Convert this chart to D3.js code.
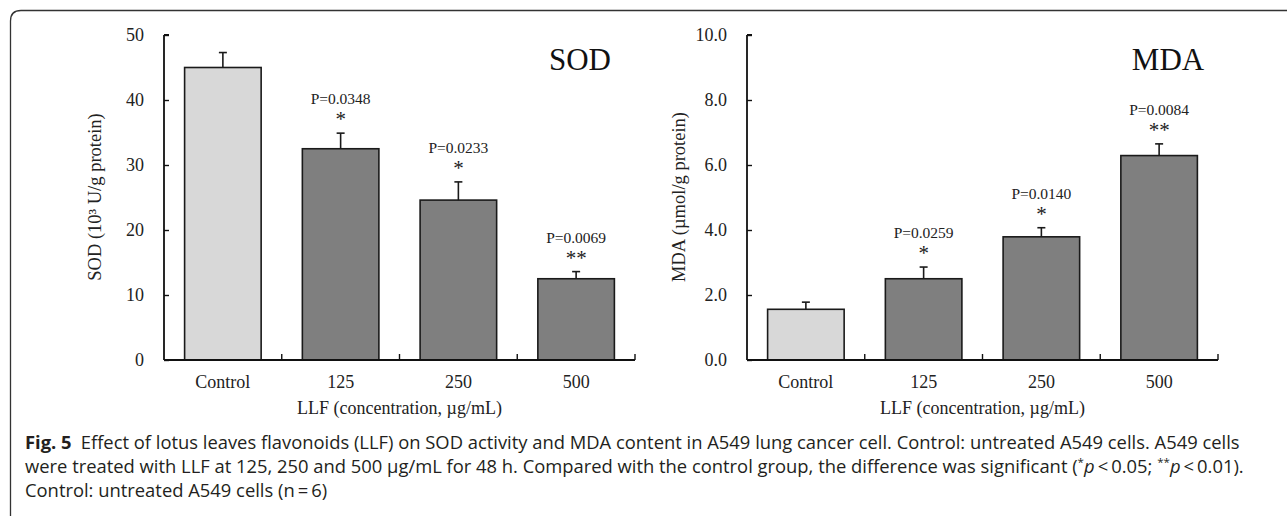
<!DOCTYPE html>
<html>
<head>
<meta charset="utf-8">
<script src="https://cdn.jsdelivr.net/npm/d3@7"></script>
<style>
  body { margin: 0; background: #fff; }
  svg { display: block; }
</style>
</head>
<body>
<div id="fig"></div>
<script>
// chart values
var categories = ["Control", "125", "250", "500"];

var sodMean = [45.0, 32.5, 24.6, 12.5];
var sodErr  = [2.3, 2.4, 2.8, 1.1];
var sodP    = ["", "P=0.0348", "P=0.0233", "P=0.0069"];
var sodStars = ["", "*", "*", "**"];
var sodTicks = [0, 10, 20, 30, 40, 50];

var mdaMean = [1.56, 2.50, 3.79, 6.29];
var mdaErr  = [0.22, 0.36, 0.28, 0.36];
var mdaP    = ["", "P=0.0259", "P=0.0140", "P=0.0084"];
var mdaStars = ["", "*", "*", "**"];
var mdaTicks = [0, 2, 4, 6, 8, 10];

var W = 1287, H = 516;
var serif = "'Liberation Serif', 'Times New Roman', serif";

var svg = d3.select('#fig').append('svg')
            .attr('width', W)
            .attr('height', H);

// rounded frame, open at right and bottom
svg.append('path')
   .attr('d', 'M10.5,' + (H + 2) + ' L10.5,21 Q10.5,10.5 21,10.5 L' + (W + 2) + ',10.5')
   .attr('fill', 'none')
   .attr('stroke', '#333')
   .attr('stroke-width', 1.3);

function drawPanel(o) {
    var g = svg.append('g');

    var x = d3.scaleBand().domain(categories).range([o.left, o.right])
              .paddingInner(0.35).paddingOuter(0.175);
    var y = d3.scaleLinear().domain([0, o.max]).range([360, 35]);

    // bars
    g.selectAll('rect.bar')
     .data(o.mean)
     .enter().append('rect')
     .attr('x', function(d, i){ return x(categories[i]); })
     .attr('y', function(d){ return y(d); })
     .attr('width', x.bandwidth())
     .attr('height', function(d){ return y(0) - y(d); })
     .attr('fill', function(d, i){ return i == 0 ? '#d8d8d8' : '#7f7f7f'; })
     .attr('stroke', '#1a1a1a')
     .attr('stroke-width', 1.6);

    // error bars (upper only) and significance marks
    var cx = function(i){ return x(categories[i]) + x.bandwidth() / 2; };
    o.mean.forEach(function(m, i) {
        var top = y(m + o.err[i]);
        g.append('line')
         .attr('x1', cx(i)).attr('x2', cx(i))
         .attr('y1', y(m)).attr('y2', top)
         .attr('stroke', '#1a1a1a').attr('stroke-width', 1.6);
        g.append('line')
         .attr('x1', cx(i) - 4).attr('x2', cx(i) + 4)
         .attr('y1', top).attr('y2', top)
         .attr('stroke', '#1a1a1a').attr('stroke-width', 1.6);
        if (o.p[i]) {
            g.append('text')
             .attr('x', cx(i)).attr('y', top - 34 + 5)
             .attr('text-anchor', 'middle')
             .attr('font-family', serif).attr('font-size', 15.5)
             .attr('fill', '#222')
             .text(o.p[i]);
            g.append('text')
             .attr('x', cx(i)).attr('y', top - 17 + 10)
             .attr('text-anchor', 'middle')
             .attr('font-family', serif).attr('font-size', 21)
             .attr('fill', '#222')
             .text(o.stars[i]);
        }
    });

    // y axis, ticks pointing inward
    var yAxis = g.append('g')
                 .attr('transform', 'translate(' + o.left + ',0)')
                 .call(d3.axisRight(y).tickValues(o.ticks).tickSize(5)
                         .tickFormat(o.fmt));
    yAxis.select('.domain').attr('stroke', '#111').attr('stroke-width', 1.8)
         .attr('d', 'M0,' + y(o.max) + 'H5M0,' + y(o.max) + 'V' + y(0));
    yAxis.selectAll('.tick line').attr('stroke', '#111').attr('stroke-width', 1.4);
    yAxis.selectAll('.tick text')
         .attr('x', -20)
         .attr('text-anchor', 'end')
         .attr('font-family', serif).attr('font-size', 18)
         .attr('fill', '#222');

    // x axis with ticks at the band boundaries
    g.append('line')
     .attr('x1', o.left).attr('x2', o.right)
     .attr('y1', y(0)).attr('y2', y(0))
     .attr('stroke', '#111').attr('stroke-width', 1.8);
    var step = x.step();
    categories.forEach(function(c, i) {
        var tx = o.left + step * (i + 1);
        g.append('line')
         .attr('x1', tx).attr('x2', tx)
         .attr('y1', y(0)).attr('y2', y(0) - 6)
         .attr('stroke', '#111').attr('stroke-width', 1.4);
        g.append('text')
         .attr('x', cx(i)).attr('y', 388)
         .attr('text-anchor', 'middle')
         .attr('font-family', serif).attr('font-size', 18)
         .attr('fill', '#222')
         .text(c);
    });

    // axis titles
    g.append('text')
     .attr('x', (o.left + o.right) / 2).attr('y', 414)
     .attr('text-anchor', 'middle')
     .attr('font-family', serif).attr('font-size', 18)
     .attr('fill', '#222')
     .text('LLF (concentration, \u00b5g/mL)');
    g.append('text')
     .attr('transform', 'translate(' + o.ylabX + ',197) rotate(-90)')
     .attr('text-anchor', 'middle')
     .attr('font-family', serif).attr('font-size', 18.5)
     .attr('fill', '#222')
     .text(o.ylabel);

    // panel title
    g.append('text')
     .attr('x', o.titleX).attr('y', 70)
     .attr('text-anchor', 'middle')
     .attr('font-family', serif).attr('font-size', 31)
     .attr('fill', '#111')
     .text(o.title);
}

drawPanel({left: 164, right: 635, max: 50, mean: sodMean, err: sodErr,
           p: sodP, stars: sodStars, ticks: sodTicks, fmt: d3.format('d'),
           ylabel: 'SOD (10\u00b3 U/g protein)', ylabX: 101,
           title: 'SOD', titleX: 580});
drawPanel({left: 747, right: 1218, max: 10, mean: mdaMean, err: mdaErr,
           p: mdaP, stars: mdaStars, ticks: mdaTicks, fmt: d3.format('.1f'),
           ylabel: 'MDA (\u00b5mol/g protein)', ylabX: 685,
           title: 'MDA', titleX: 1168});

// caption
var sans = "'Open Sans', 'Noto Sans', sans-serif";
var cap = svg.append('g').attr('fill', '#231f20')
             .attr('font-family', sans).attr('font-size', 17.5);

var l1 = cap.append('text').attr('x', 25).attr('y', 449);
l1.append('tspan').attr('font-weight', 'bold').text('Fig. 5');
l1.append('tspan').text('\u2002Effect of lotus leaves flavonoids (LLF) on SOD activity and MDA content in A549 lung cancer cell. Control: untreated A549 cells. A549 cells');

var l2 = cap.append('text').attr('x', 25).attr('y', 473);
l2.append('tspan').text('were treated with LLF at 125, 250 and 500 \u00b5g/mL for 48 h. Compared with the control group, the difference was significant (');
l2.append('tspan').attr('font-size', 11).attr('dy', -7).text('*');
l2.append('tspan').attr('font-style', 'italic').attr('dy', 7).text('p');
l2.append('tspan').text('\u2009<\u20090.05; ');
l2.append('tspan').attr('font-size', 11).attr('dy', -7).text('**');
l2.append('tspan').attr('font-style', 'italic').attr('dy', 7).text('p');
l2.append('tspan').text('\u2009<\u20090.01).');

var l3 = cap.append('text').attr('x', 25).attr('y', 497)
            .text('Control: untreated A549 cells (n\u2009=\u20096)');

// squeeze the caption lines to the condensed width of the original
var w1 = l1.node().getComputedTextLength();
var sx = (1240 - 25) / w1;
[l1, l2, l3].forEach(function(t) {
    t.attr('transform', 'translate(25,0) scale(' + sx + ',1) translate(-25,0)');
});
</script>
</body>
</html>
